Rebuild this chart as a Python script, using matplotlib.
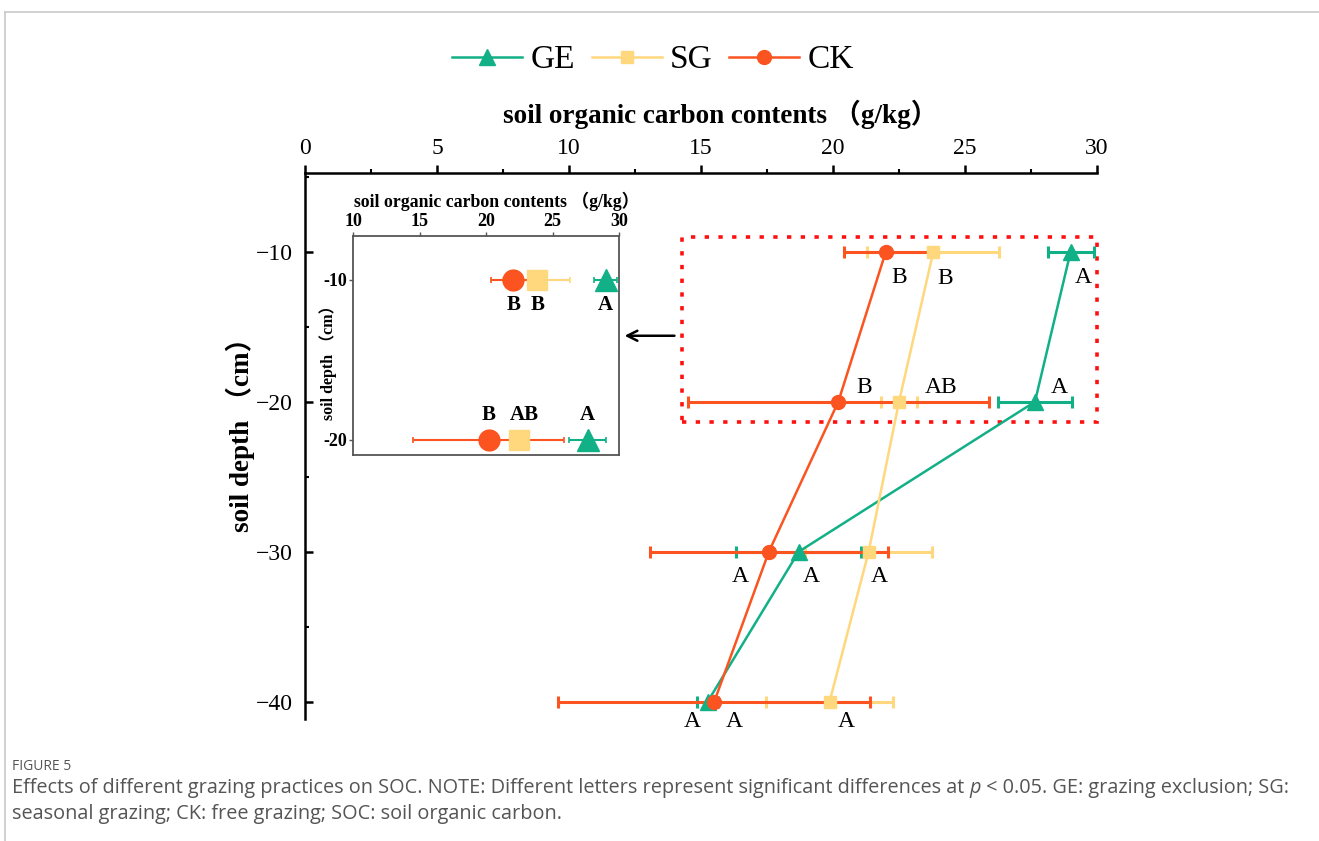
import numpy as np
import matplotlib
matplotlib.use('Agg')
import matplotlib.pyplot as plt
from matplotlib.lines import Line2D
from matplotlib.patches import Rectangle
from matplotlib.ticker import MultipleLocator, FuncFormatter

# data
depth = [-10, -20, -30, -40]
ge = [29.0, 27.65, 18.7, 15.25]
ge_err = [0.87, 1.4, 2.37, 0.4]
sg = [23.8, 22.5, 21.35, 19.87]
sg_err = [2.5, 0.7, 2.4, 2.42]
ck = [22.0, 20.2, 17.57, 15.5]
ck_err = [1.6, 5.7, 4.5, 5.9]

ge_letters = ['A', 'A', 'A', 'A']
sg_letters = ['B', 'AB', 'A', 'A']
ck_letters = ['B', 'B', 'A', 'A']

# label offsets (pixels) for the letters in the main panel
ge_off = [(13, -26), (24, 14), (13, -25), (-15, -20)]
sg_off = [(12, -27), (42, 14), (11, -25), (17, -20)]
ck_off = [(13, -26), (26, 14), (-29, -25), (20, -20)]
# inset only shows the two upper layers
ins_off = {'GE': [(0, -25), (0, 25)], 'SG': [(1, -25), (5, 25)], 'CK': [(1, -25), (0, 25)]}

c_ge = '#12b087'
c_sg = '#ffd77c'
c_ck = '#fb5421'

serif = ['Liberation Serif', 'Noto Sans CJK SC']

W, H = 1319, 841
fig = plt.figure(figsize=(W / 100, H / 100), dpi=100)

# page frame lines (top and left)
fig.add_artist(Line2D([5 / W, 1], [1 - 12 / H, 1 - 12 / H], color='#c8c8c8', lw=1.2))
fig.add_artist(Line2D([5 / W, 5 / W], [0, 1 - 12 / H], color='#c8c8c8', lw=1.2))

ax = fig.add_axes([305 / W, 1 - 719 / H, (1097 - 305) / W, (719 - 173.3) / H])
ax.set_xlim(0, 30)
ax.set_ylim(-41.15, -4.77)
ax.xaxis.tick_top()
ax.spines['bottom'].set_visible(False)
ax.spines['right'].set_visible(False)
for s in ['top', 'left']:
    ax.spines[s].set_linewidth(1.8)
ax.xaxis.set_major_locator(MultipleLocator(5))
ax.xaxis.set_minor_locator(MultipleLocator(2.5))
ax.set_yticks(depth)
ax.yaxis.set_minor_locator(MultipleLocator(5))
ax.tick_params(axis='x', which='major', direction='out', length=6, width=1.8, labelsize=17, pad=4)
ax.tick_params(axis='x', which='minor', direction='out', length=3, width=1.5)
ax.tick_params(axis='y', which='major', direction='in', length=6, width=1.8, labelsize=17, pad=8.5)
ax.tick_params(axis='y', which='minor', direction='in', length=3, width=1.5)
for lab in ax.get_xticklabels() + ax.get_yticklabels():
    lab.set_fontfamily(serif)

fig.text(720 / W, 1 - 114 / H, 'soil organic carbon contents （g/kg）', family=serif,
         fontsize=19.5, fontweight='bold', ha='center', va='center')
fig.text(240 / W, 1 - 428 / H, 'soil depth （cm）', family=serif, fontsize=19.5,
         fontweight='bold', ha='center', va='center', rotation=90)

series = [('GE', ge, ge_err, c_ge, '^', ge_letters, ge_off, 11),
          ('SG', sg, sg_err, c_sg, 's', sg_letters, sg_off, 9),
          ('CK', ck, ck_err, c_ck, 'o', ck_letters, ck_off, 10)]

handles = []
for i, (name, vals, err, col, mk, letters, offs, ms) in enumerate(series):
    ax.errorbar(vals, depth, xerr=err, fmt='none', ecolor=col, elinewidth=2.2,
                capsize=4.5, capthick=2.2, zorder=2 + i)
    h, = ax.plot(vals, depth, color=col, lw=1.8, marker=mk, ms=ms, zorder=6 + i, label=name)
    handles.append(h)
    for v, d, t, o in zip(vals, depth, letters, offs):
        ax.annotate(t, (v, d), xytext=o, textcoords='offset pixels', ha='center', va='center',
                    family=serif, fontsize=17, zorder=10)

# highlighted region shown in the inset
box_x0, box_x1 = 14.28, 30.0
box_y0, box_y1 = -21.35, -9.02
ax.add_patch(Rectangle((box_x0, box_y0), box_x1 - box_x0, box_y1 - box_y0, fill=False,
                       ec='#ff1010', lw=2.6, ls=(0, (1.2, 2.6)), clip_on=False, zorder=1))
ax.annotate('', xy=(12.0, -15.6), xytext=(14.1, -15.6),
            arrowprops=dict(arrowstyle='->', color='black', lw=1.8, mutation_scale=18))

fig.legend(handles=handles, loc='center', bbox_to_anchor=(653 / W, 1 - 60 / H), ncol=3,
           frameon=False, prop={'family': serif, 'size': 24}, handlelength=2.1,
           handletextpad=0.25, columnspacing=0.5, borderpad=0)

# inset
ins = fig.add_axes([353 / W, 1 - 455 / H, (619 - 353) / W, (455 - 236) / H])
ins.set_xlim(10, 30)
ins.set_ylim(-20.94, -7.25)
ins.xaxis.tick_top()
for s in ins.spines.values():
    s.set_color('#555555')
    s.set_linewidth(1.3)
ins.set_xticks([10, 15, 20, 25, 30])
ins.set_yticks(depth[:2])
ins.yaxis.set_major_formatter(FuncFormatter(lambda v, p: '%d' % v))
ins.tick_params(direction='out', length=3, width=1, labelsize=13, pad=1.5, color='#555555')
for lab in ins.get_xticklabels() + ins.get_yticklabels():
    lab.set_fontfamily(serif)
    lab.set_fontweight('bold')
fig.text(497 / W, 1 - 201 / H, 'soil organic carbon contents （g/kg）', family=serif,
         fontsize=12.8, fontweight='bold', ha='center', va='center')
fig.text(328 / W, 1 - 359 / H, 'soil depth （cm）', family=serif, fontsize=11.5,
         fontweight='bold', ha='center', va='center', rotation=90)

ins_ms = {'GE': 16, 'SG': 14, 'CK': 15}
for i, (name, vals, err, col, mk, letters, offs, ms) in enumerate(series):
    ins.errorbar(vals[:2], depth[:2], xerr=err[:2], fmt='none', ecolor=col, elinewidth=1.5,
                 capsize=2.5, capthick=1.2, zorder=2 + i)
    ins.plot(vals[:2], depth[:2], ls='none', marker=mk, ms=ins_ms[name], color=col, zorder=6 + i)
    for v, d, t, o in zip(vals[:2], depth[:2], letters[:2], ins_off[name]):
        ins.annotate(t, (v, d), xytext=o, textcoords='offset pixels', ha='center', va='center',
                     family=serif, fontsize=15, fontweight='bold', zorder=10)

# caption
cap_font = 'Open Sans'
cap_size = 14.3
fig.text(12 / W, 1 - 767 / H, 'FIGURE 5', family=cap_font, fontsize=10, color='#555555',
         va='center', ha='left')
fig.canvas.draw()
r = fig.canvas.get_renderer()
t1 = fig.text(12 / W, 1 - 788 / H,
              'Effects of different grazing practices on SOC. NOTE: Different letters represent significant differences at ',
              family=cap_font, fontsize=cap_size, color='#555555', va='center', ha='left')
bb = t1.get_window_extent(r)
t2 = fig.text(bb.x1 / W, 1 - 788 / H, 'p', family=cap_font, style='italic', fontsize=cap_size,
              color='#555555', va='center', ha='left')
bb2 = t2.get_window_extent(r)
fig.text(bb2.x1 / W, 1 - 788 / H, ' < 0.05. GE: grazing exclusion; SG:', family=cap_font,
         fontsize=cap_size, color='#555555', va='center', ha='left')
fig.text(12 / W, 1 - 814 / H, 'seasonal grazing; CK: free grazing; SOC: soil organic carbon.',
         family=cap_font, fontsize=cap_size, color='#555555', va='center', ha='left')

fig.savefig('out.png', dpi=100)
